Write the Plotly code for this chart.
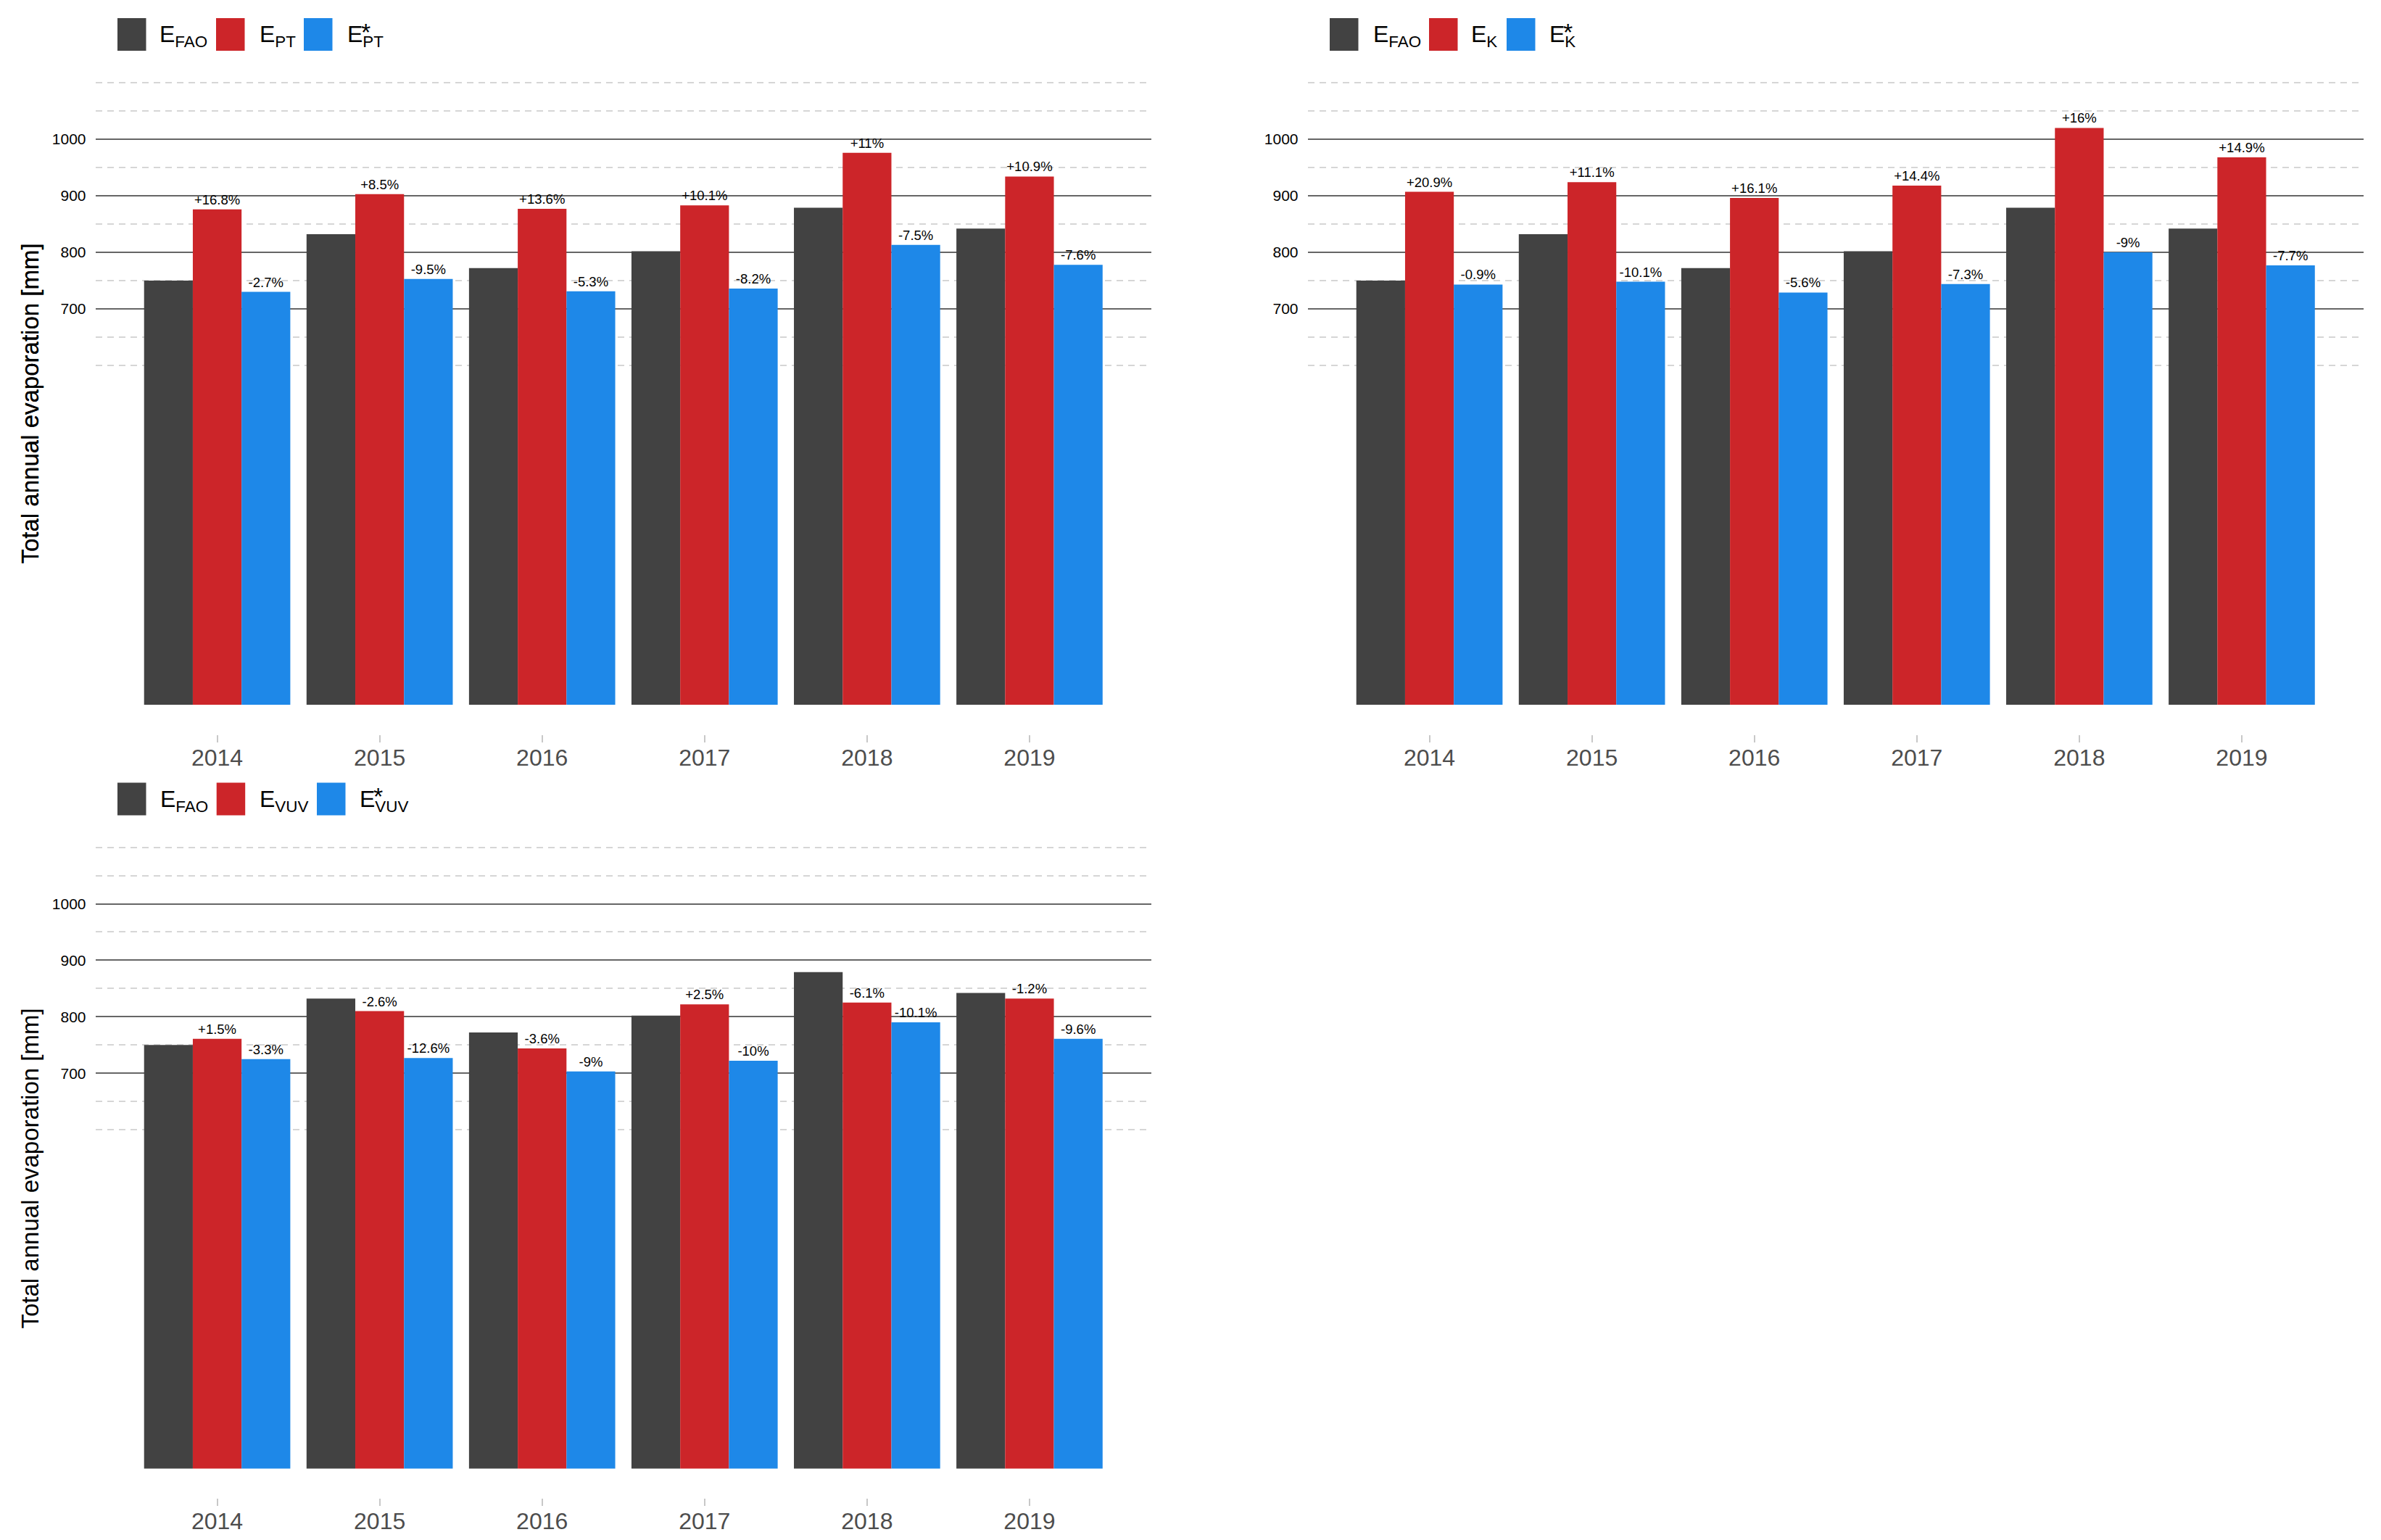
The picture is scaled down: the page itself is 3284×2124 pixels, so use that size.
import plotly.graph_objects as go

# ---------------- data ----------------
years = ["2014", "2015", "2016", "2017", "2018", "2019"]

e_fao = [750, 832, 772, 802, 879, 842]

e_pt = [876, 903, 877, 883, 976, 934]
e_pt_star = [730, 753, 731, 736, 813, 778]
pt_labels = ["+16.8%", "+8.5%", "+13.6%", "+10.1%", "+11%", "+10.9%"]
pt_star_labels = ["-2.7%", "-9.5%", "-5.3%", "-8.2%", "-7.5%", "-7.6%"]

e_k = [907, 924, 896, 918, 1020, 968]
e_k_star = [743, 748, 729, 744, 800, 777]
k_labels = ["+20.9%", "+11.1%", "+16.1%", "+14.4%", "+16%", "+14.9%"]
k_star_labels = ["-0.9%", "-10.1%", "-5.6%", "-7.3%", "-9%", "-7.7%"]

e_vuv = [761, 810, 744, 822, 825, 832]
e_vuv_star = [725, 727, 703, 722, 790, 761]
vuv_labels = ["+1.5%", "-2.6%", "-3.6%", "+2.5%", "-6.1%", "-1.2%"]
vuv_star_labels = ["-3.3%", "-12.6%", "-9%", "-10%", "-10.1%", "-9.6%"]

major_ticks = [700, 800, 900, 1000]
minor_ticks = [600, 650, 750, 850, 950, 1050, 1100]
y_title = "Total annual evaporation [mm]"

# ---------------- style ----------------
W, H = 3284, 2124
OFF = 8  # default page body margin
FW, FH = W - 2 * OFF, H - 2 * OFF
FONT = "Liberation Sans, Arial, Helvetica, sans-serif"
C_FAO = "#424242"
C_RED = "#CC2529"
C_BLUE = "#1E88E8"


def fx(px):
    return (px - OFF) / FW


def fy(py):
    return 1 - (py - OFF) / FH


Y_RANGE = [-52, 1152]

panels = [
    dict(sfx="", x0=131.5, x1=1588.0, zero=972.0, k=0.780,
         names=["E<sub>FAO</sub>", "E<sub>PT</sub>", "E<sub>PT</sub>"],
         vals=[e_fao, e_pt, e_pt_star], labs=[None, pt_labels, pt_star_labels],
         leg_sq=[162, 298, 419], leg_tx=[218, 355.6, 477], leg_y=47.5, title_y=557),
    dict(sfx="2", x0=1803.5, x1=3260.0, zero=972.0, k=0.780,
         names=["E<sub>FAO</sub>", "E<sub>K</sub>", "E<sub>K</sub>"],
         vals=[e_fao, e_k, e_k_star], labs=[None, k_labels, k_star_labels],
         leg_sq=[1834, 1971, 2078], leg_tx=[1892, 2027, 2135], leg_y=47.5, title_y=557),
    dict(sfx="3", x0=131.5, x1=1588.0, zero=2025.5, k=0.779,
         names=["E<sub>FAO</sub>", "E<sub>VUV</sub>", "E<sub>VUV</sub>"],
         vals=[e_fao, e_vuv, e_vuv_star], labs=[None, vuv_labels, vuv_star_labels],
         leg_sq=[162, 298.7, 437], leg_tx=[218.75, 355.8, 494.2], leg_y=1102, title_y=1612),
]

colors = [C_FAO, C_RED, C_BLUE]

fig = go.Figure()
layout = dict(
    width=FW, height=FH,
    margin=dict(l=0, r=0, t=0, b=0),
    paper_bgcolor="white", plot_bgcolor="white",
    barmode="group", bargap=0.1, bargroupgap=0,
    showlegend=False,
    font=dict(family=FONT, color="black"),
)
shapes = []
annotations = []

for p in panels:
    sfx = p["sfx"]
    xa = "x" + sfx
    ya = "y" + sfx
    for i in range(3):
        labs = p["labs"][i]
        kw = {}
        if labs is not None:
            kw = dict(text=labs, textposition="outside",
                      textfont=dict(size=18.5, color="black", family=FONT),
                      cliponaxis=False, constraintext="none")
        fig.add_trace(go.Bar(
            x=years, y=p["vals"][i], xaxis=xa, yaxis=ya,
            marker=dict(color=colors[i], line=dict(width=0)),
            showlegend=False, **kw,
        ))
    ybot = p["zero"] - Y_RANGE[0] * p["k"]
    ytop = p["zero"] - Y_RANGE[1] * p["k"]
    layout["xaxis" + sfx] = dict(
        domain=[fx(p["x0"]), fx(p["x1"])], anchor=ya, type="category",
        range=[-0.75, 5.75], showgrid=False, zeroline=False, showline=False,
        ticks="outside", ticklen=10, tickwidth=2, tickcolor="#C8C8C8",
        tickfont=dict(size=32, color="#4D4D4D", family=FONT),
        ticklabelstandoff=-6,
    )
    layout["yaxis" + sfx] = dict(
        domain=[fy(ybot), fy(ytop)], anchor=xa, range=Y_RANGE,
        tickmode="array", tickvals=major_ticks,
        showgrid=True, gridcolor="#666666", gridwidth=2,
        zeroline=False, showline=False, ticks="",
        tickfont=dict(size=21, color="black", family=FONT),
        ticklabelstandoff=12,
        minor=dict(tickmode="array", tickvals=minor_ticks, showgrid=True,
                   gridcolor="#D6D6D6", gridwidth=2, griddash="9px,7px", ticks=""),
    )
    # y title
    annotations.append(dict(
        text=y_title, textangle=-90, x=fx(40.5), y=fy(p["title_y"]),
        xref="paper", yref="paper", showarrow=False,
        xanchor="center", yanchor="middle",
        font=dict(size=33, color="black", family=FONT),
    ))
    # manual legend
    for i in range(3):
        sx = p["leg_sq"][i]
        ly = p["leg_y"]
        shapes.append(dict(
            type="rect", xref="paper", yref="paper",
            x0=fx(sx), x1=fx(sx + 39.5), y0=fy(ly + 22.5), y1=fy(ly - 22.5),
            fillcolor=colors[i], line=dict(width=0), layer="above",
        ))
        annotations.append(dict(
            text=p["names"][i], x=fx(p["leg_tx"][i]), y=fy(ly + 2),
            xref="paper", yref="paper", showarrow=False,
            xanchor="left", yanchor="middle",
            font=dict(size=32, color="black", family=FONT),
        ))
        if i == 2:
            annotations.append(dict(
                text="*", x=fx(p["leg_tx"][i] + 27), y=fy(ly - 4),
                xref="paper", yref="paper", showarrow=False,
                xanchor="center", yanchor="middle",
                font=dict(size=34, color="black", family=FONT),
            ))

layout["shapes"] = shapes
layout["annotations"] = annotations
fig.update_layout(**layout)

fig.write_html("out.html")
